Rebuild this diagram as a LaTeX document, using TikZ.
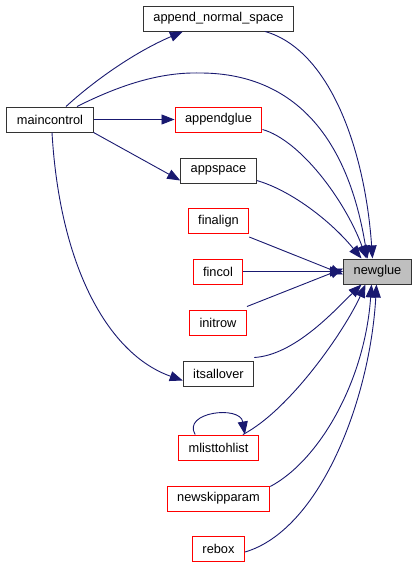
\documentclass[tikz,border=0pt]{standalone}
\usepackage{fontspec}
\setmainfont{Liberation Sans}
\usetikzlibrary{arrows.meta}
\definecolor{edgeblue}{HTML}{191970}
\begin{document}
\begin{tikzpicture}[x=1pt,y=-1pt,
  fn/.style={draw=black!80,line width=1pt,minimum height=25pt,inner xsep=10pt,
    inner ysep=0pt,font=\fontsize{12.8}{15}\selectfont},
  redfn/.style={fn,draw=red},
  callee/.style={fn,fill=black!25},
  call/.style={edgeblue,line width=0.9pt,-{Triangle[length=13pt,width=10pt]}}]
\useasboundingbox (0,0) rectangle (419,568);
\node[fn] (ans) at (218.5,18.5) {append\_normal\_space};
\node[fn] (mc) at (50,119.5) {maincontrol};
\node[redfn] (ag) at (218.5,119.5) {appendglue};
\node[fn] (as) at (218.5,170.5) {appspace};
\node[redfn] (fa) at (218.5,221) {finalign};
\node[redfn] (fc) at (218,271.5) {fincol};
\node[callee] (ng) at (377.5,271.5) {newglue};
\node[redfn] (ir) at (218,322.5) {initrow};
\node[fn] (ia) at (218.5,373.5) {itsallover};
\node[redfn] (ml) at (218.5,447.5) {mlisttohlist};
\node[redfn] (ns) at (218.5,498.5) {newskipparam};
\node[redfn] (rb) at (218.5,549) {rebox};
% maincontrol calls
\draw[call] ([xshift=16pt]mc.north) .. controls (95,80) and (135,52) .. ([xshift=40pt]ans.south west);
\draw[call] ([xshift=27pt]mc.north) .. controls (120,85) and (160,72) .. (200,73)
  .. controls (280,73) and (345,120) .. ([xshift=-10pt]ng.north);
\draw[call] (mc.east) -- (ag.west);
\draw[call] (mc.south east) -- ([yshift=-10pt]as.west);
\draw[call] ([xshift=2pt]mc.south) .. controls (60,270) and (110,355) .. ([yshift=-7pt]ia.west);
% callers of newglue
\draw[call] ([xshift=-29pt]ans.south east) .. controls (330,50) and (365,150) .. ([xshift=-5pt]ng.north);
\draw[call] ([yshift=-10pt]ag.east) .. controls (300,140) and (345,200) .. ([xshift=-11pt]ng.north);
\draw[call] ([yshift=-10pt]as.east) .. controls (290,190) and (330,220) .. ([xshift=-16pt]ng.north);
\draw[call] ([yshift=-3pt]fa.south east) -- ([yshift=-3pt]ng.west);
\draw[call] (fc.east) -- (ng.west);
\draw[call] ([yshift=3pt]ir.north east) -- ([yshift=3pt]ng.west);
\draw[call] ([yshift=3pt]ia.north east) .. controls (295,355) and (335,310) .. ([xshift=-16pt]ng.south);
\draw[call] ([xshift=-16pt]ml.north east) .. controls (290,410) and (345,330) .. ([xshift=-12pt]ng.south);
\draw[call] ([yshift=-1pt]ns.north east) .. controls (320,460) and (365,380) .. ([xshift=-6pt]ng.south);
\draw[call] ([yshift=-3pt]rb.east) .. controls (320,530) and (370,400) .. ([xshift=-1pt]ng.south);
% recursion
\draw[call] ([xshift=17pt]ml.north west) .. controls (182,412) and (240,405) .. ([xshift=-14pt]ml.north east);
\end{tikzpicture}
\end{document}
